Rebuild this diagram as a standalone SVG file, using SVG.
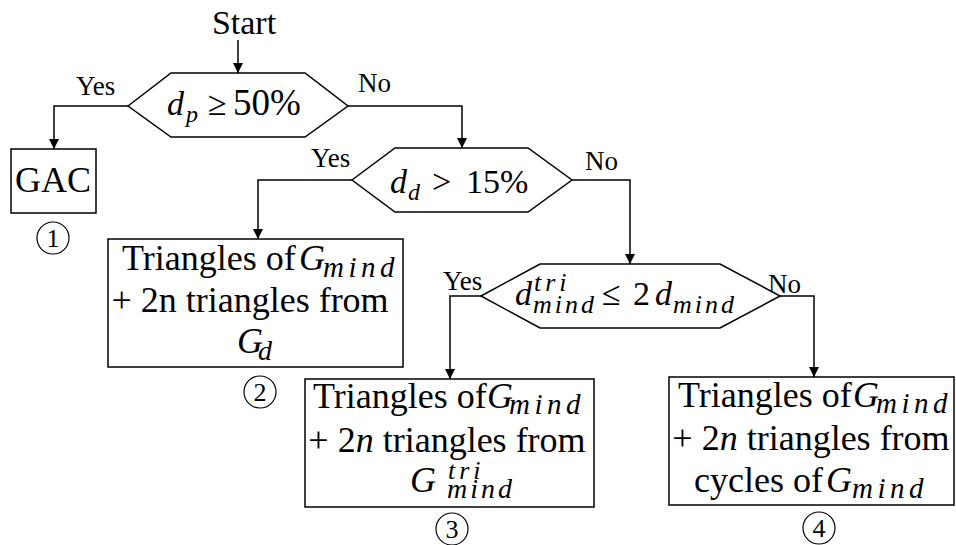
<svg xmlns="http://www.w3.org/2000/svg" width="956" height="545" viewBox="0 0 956 545">
<defs>
<marker id="arr" markerWidth="10" markerHeight="12" refX="10" refY="6" orient="auto" markerUnits="userSpaceOnUse">
<path d="M0,1 L10,6 L0,11 Z" fill="#000"/>
</marker>
</defs>
<rect width="956" height="545" fill="#fff"/>

<text font-family="Liberation Serif" x="244" y="34" font-size="34" text-anchor="middle">Start</text>

<g id="connectors" fill="none" stroke="#000" stroke-width="1.5">
<path d="M238,40 V73" marker-end="url(#arr)"/>
<path d="M128,106 H54 V149" marker-end="url(#arr)"/>
<path d="M348,106 H462 V148" marker-end="url(#arr)"/>
<path d="M352,180 H258 V239" marker-end="url(#arr)"/>
<path d="M572,180 H630 V264" marker-end="url(#arr)"/>
<path d="M481,296 H450 V379" marker-end="url(#arr)"/>
<path d="M780,296 H814 V377" marker-end="url(#arr)"/>
</g>
<g id="labels">
<text font-family="Liberation Serif" font-size="27" x="76" y="95">Yes</text>
<text font-family="Liberation Serif" font-size="27" x="358" y="92">No</text>
<text font-family="Liberation Serif" font-size="27" x="311" y="167">Yes</text>
<text font-family="Liberation Serif" font-size="27" x="585" y="170">No</text>
<text font-family="Liberation Serif" font-size="27" x="443" y="290">Yes</text>
<text font-family="Liberation Serif" font-size="27" x="768" y="293">No</text>
</g>

<g id="dec1">
<polygon fill="#fff" stroke="#000" stroke-width="1.5" points="128,106 171,73 305,73 348,106 305,137 171,137"/>
<text font-family="Liberation Serif" font-size="34" x="167" y="115"><tspan font-style="italic">d</tspan><tspan x="186" y="122" font-size="24" font-style="italic">p</tspan><tspan x="208" y="115">≥</tspan><tspan x="233" y="115" font-size="37">50%</tspan></text>
</g>

<g id="gac">
<rect fill="#fff" stroke="#000" stroke-width="1.5" x="11" y="149" width="85" height="64"/>
<text font-family="Liberation Serif" x="53" y="192" font-size="36" text-anchor="middle">GAC</text>
<circle fill="none" stroke="#000" stroke-width="1.2" cx="53" cy="238" r="16"/>
<text font-family="Liberation Serif" font-size="26" x="53" y="247" text-anchor="middle">1</text>
</g>

<g id="dec2">
<polygon fill="#fff" stroke="#000" stroke-width="1.5" points="352,180 395,148 528,148 572,180 528,212 395,212"/>
<text font-family="Liberation Serif" font-size="34" x="390" y="193"><tspan font-style="italic">d</tspan><tspan x="408" y="200" font-size="24" font-style="italic">d</tspan><tspan x="432" y="193">&gt;</tspan><tspan x="466" y="193">15%</tspan></text>
</g>

<g id="box2">
<rect fill="#fff" stroke="#000" stroke-width="1.5" x="108" y="239" width="295" height="128"/>
<text font-family="Liberation Serif" font-size="36" x="122" y="270">Triangles of<tspan font-style="italic" x="299" y="270">G</tspan><tspan font-size="29" font-style="italic" letter-spacing="4.5" x="323" y="277">mind</tspan></text>
<text font-family="Liberation Serif" font-size="36" x="250" y="312" text-anchor="middle">+ 2n triangles from</text>
<text font-family="Liberation Serif" font-size="36" x="237" y="353"><tspan font-style="italic">G</tspan><tspan x="258" y="360" font-size="28" font-style="italic">d</tspan></text>
<circle fill="none" stroke="#000" stroke-width="1.2" cx="260" cy="392" r="16"/>
<text font-family="Liberation Serif" font-size="26" x="260" y="401" text-anchor="middle">2</text>
</g>

<g id="dec3">
<polygon fill="#fff" stroke="#000" stroke-width="1.5" points="481,296 540,264 720,264 780,296 720,328 540,328"/>
<text font-family="Liberation Serif" font-size="34" x="515" y="305"><tspan font-style="italic">d</tspan><tspan font-size="26" font-style="italic" letter-spacing="4" x="534" y="291">tri</tspan><tspan font-size="26" font-style="italic" letter-spacing="3" x="533" y="313">mind</tspan><tspan x="602" y="305">≤</tspan><tspan x="633" y="305">2</tspan><tspan font-style="italic" x="655" y="305">d</tspan><tspan font-size="26" font-style="italic" letter-spacing="3" x="673" y="313">mind</tspan></text>
</g>

<g id="box3">
<rect fill="#fff" stroke="#000" stroke-width="1.5" x="305" y="379" width="289" height="128"/>
<text font-family="Liberation Serif" font-size="36" x="313" y="408">Triangles of<tspan font-style="italic" x="487" y="408">G</tspan><tspan font-size="29" font-style="italic" letter-spacing="4.5" x="509" y="414">mind</tspan></text>
<text font-family="Liberation Serif" font-size="36" x="447" y="452" text-anchor="middle">+ 2<tspan font-style="italic">n</tspan> triangles from</text>
<text font-family="Liberation Serif" font-size="36" x="410" y="492"><tspan font-style="italic">G</tspan><tspan font-size="26" font-style="italic" letter-spacing="4" x="448" y="479">tri</tspan><tspan font-size="28" font-style="italic" letter-spacing="3" x="447" y="498">mind</tspan></text>
<circle fill="none" stroke="#000" stroke-width="1.2" cx="452" cy="529" r="16"/>
<text font-family="Liberation Serif" font-size="26" x="452" y="538" text-anchor="middle">3</text>
</g>

<g id="box4">
<rect fill="#fff" stroke="#000" stroke-width="1.5" x="669" y="377" width="285" height="128"/>
<text font-family="Liberation Serif" font-size="36" x="678" y="407">Triangles of<tspan font-style="italic" x="853" y="407">G</tspan><tspan font-size="29" font-style="italic" letter-spacing="4.5" x="876" y="413">mind</tspan></text>
<text font-family="Liberation Serif" font-size="36" x="811" y="450" text-anchor="middle">+ 2<tspan font-style="italic">n</tspan> triangles from</text>
<text font-family="Liberation Serif" font-size="36" x="694" y="492">cycles of<tspan font-style="italic" x="826" y="492">G</tspan><tspan font-size="29" font-style="italic" letter-spacing="4.5" x="852" y="498">mind</tspan></text>
<circle fill="none" stroke="#000" stroke-width="1.2" cx="819" cy="528" r="16"/>
<text font-family="Liberation Serif" font-size="26" x="819" y="537" text-anchor="middle">4</text>
</g>
</svg>
